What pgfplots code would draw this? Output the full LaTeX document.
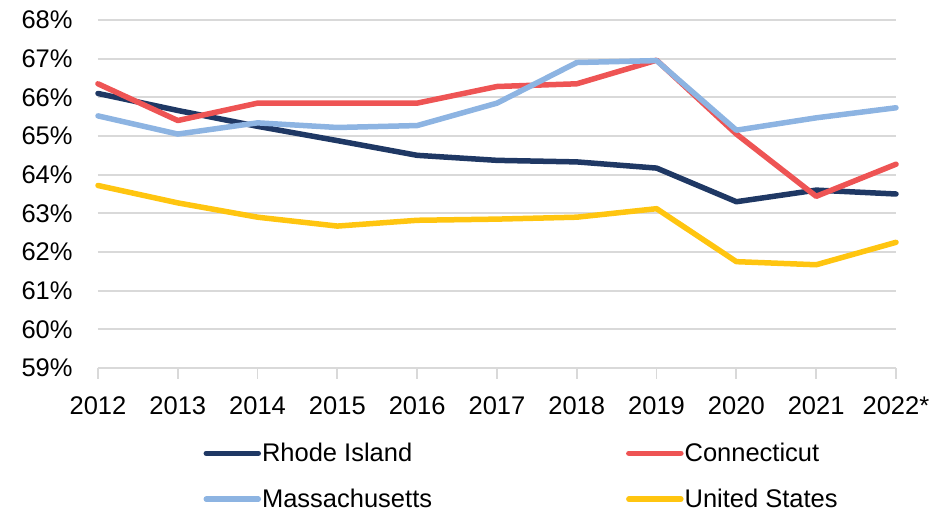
\documentclass[border=0pt]{standalone}
\usepackage{pgfplots}
\pgfplotsset{compat=1.18}
\usepackage{fontspec}
\setmainfont{Liberation Sans}
\definecolor{riblue}{HTML}{1F3864}
\definecolor{ctred}{HTML}{EE5454}
\definecolor{mablue}{HTML}{8DB4E2}
\definecolor{usgold}{HTML}{FFC510}
\definecolor{gridgray}{HTML}{D9D9D9}

\begin{document}
\begin{tikzpicture}
\begin{axis}[name=ax, scale only axis, width=798bp, height=348bp,
  xmin=2012, xmax=2022, ymin=59, ymax=68,
  xtick={2012,...,2022}, xticklabels={2012,2013,2014,2015,2016,2017,2018,2019,2020,2021,2022*},
  ytick={59,...,68}, yticklabel={\pgfmathprintnumber{\tick}\%},
  /pgf/number format/assume math mode=true,
  tick label style={font=\fontsize{25.5bp}{29bp}\selectfont, black},
  axis line style={draw=none},
  ymajorgrids, major grid style={gridgray, line width=1.8bp},
  xtick pos=bottom, tick align=outside, major tick length=11bp,
  xtick style={gridgray, line width=1.8bp}, ytick style={draw=none},
  yticklabel style={xshift=-11bp}, xticklabel style={yshift=-14bp},
  clip=false,
  every axis plot/.append style={line width=5.5bp, line cap=round, line join=round, mark=none},
  legend columns=2, legend cell align=left,
  legend style={at={(rel axis cs:0.132,-0.21)}, anchor=north west, draw=none, fill=none,
    font=\fontsize{25.5bp}{29bp}\selectfont, row sep=22bp, inner sep=0pt,
    /tikz/every even column/.append style={column sep=193bp},
    nodes={inner xsep=1bp}},
  legend image code/.code={\draw[#1, line cap=round] (0bp,0bp) -- (52bp,0bp);},
]
\addplot[riblue] coordinates {(2012,66.1)(2013,65.66)(2014,65.25)(2015,64.88)(2016,64.5)(2017,64.37)(2018,64.33)(2019,64.17)(2020,63.3)(2021,63.6)(2022,63.5)};
\addlegendentry{Rhode Island}
\addplot[ctred] coordinates {(2012,66.35)(2013,65.4)(2014,65.85)(2015,65.85)(2016,65.85)(2017,66.28)(2018,66.35)(2019,66.96)(2020,65.05)(2021,63.44)(2022,64.27)};
\addlegendentry{Connecticut}
\addplot[mablue] coordinates {(2012,65.52)(2013,65.05)(2014,65.34)(2015,65.22)(2016,65.27)(2017,65.85)(2018,66.9)(2019,66.95)(2020,65.15)(2021,65.47)(2022,65.73)};
\addlegendentry{Massachusetts}
\addplot[usgold] coordinates {(2012,63.72)(2013,63.27)(2014,62.9)(2015,62.67)(2016,62.82)(2017,62.85)(2018,62.9)(2019,63.12)(2020,61.75)(2021,61.67)(2022,62.25)};
\addlegendentry{United States}
\end{axis}
\path ([xshift=-98bp,yshift=20bp]ax.north west) rectangle ([xshift=53bp,yshift=-147bp]ax.south east);
\end{tikzpicture}
\end{document}
